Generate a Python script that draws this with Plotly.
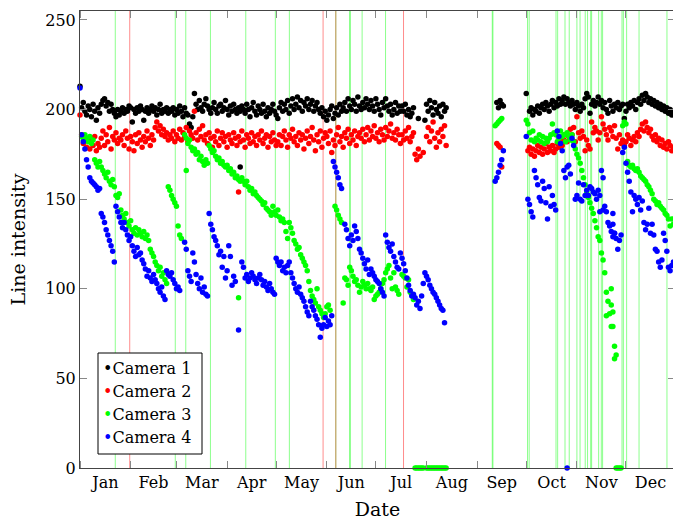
import plotly.graph_objects as go
import pandas as pd

YEAR = 2015

# ---- Data: chunks of consecutive daily readings (start "MM-DD", values) ----
cam1_chunks = [
    ("01-01", [213, 201, 204, 199, 197, 202, 200]),
    ("01-08", [196, 203, 199, 194, 201, 198]),
    ("01-14", [203, 205, 206, 202, 204, 199, 203, 200]),
    ("01-22", [198, 196, 200, 197, 199, 201, 198]),
    ("01-29", [200, 199, 202, 201, 193, 200, 198, 201, 199, 202, 200, 194, 199, 201,
               198, 200, 202, 199, 201, 197, 200, 203, 198, 200, 199, 201, 198, 200]),
    ("02-26", [199, 201, 197, 200, 198, 202, 199, 196, 201, 198, 197, 192, 190, 196, 209]),
    ("03-13", [203, 200, 205, 201, 199, 203, 206, 202, 200, 198, 201, 204, 200, 198, 202]),
    ("03-28", [203, 199, 201, 205, 200, 197, 202, 199, 203, 200, 198, 201, 199, 202, 200]),
    ("04-12", [198, 203, 200, 196, 201, 204, 199, 197, 202, 200, 198, 203, 199, 196, 201,
               198, 200, 203, 199]),
    ("05-01", [197, 195, 201, 204, 199, 203, 200, 205, 198, 202, 206, 200]),
    ("05-13", [203, 207, 201, 205, 199, 204, 202, 206, 200, 203, 205, 199, 202, 204, 200]),
    ("05-28", [198, 201, 196, 199, 194, 197, 200, 202, 195, 198, 201, 197, 203, 199]),
    ("06-11", [201, 204, 199, 206, 202, 200, 205, 203, 199, 207, 202, 200, 204, 201, 206,
               203, 200]),
    ("06-28", [205, 202, 199, 206, 203, 200, 197, 204, 201, 206, 202, 199, 203, 197, 200,
               204, 198, 202, 199]),
    ("07-17", [202, 199, 203, 197, 200, 196, 198, 201]),
    ("07-25", [None, None, 195, None, None, None, 194]),
    ("08-01", [203, 199, 205, 201, 197, 204, 200, 198, 202, 196, 203, 199, 201]),
    ("09-13", [204, 201, 205, 203, 202]),
    ("10-01", [209]),
    ("10-03", [199, 201, 197, 200, 199, 202, 198, 201, 203, 200, 204, 202, 199, 203, 205,
               201, 204, 202, 206, 203]),
    ("10-23", [205, 207, 203, 206, 204, 202, 205, 203, 200, 204, 202, 199, 203, 201, 206,
               209, 207, 198, 203, 205, 202, 204, 207, 203, 205, 201]),
    ("11-18", [204, 200, 198, 205, 202, 199, 203, 201, 204, 200, 202, 203, 195, 199, 203,
               201, 204, 202, 205, 200]),
    ("12-08", [204, 206, 203, 208, 205, 209, 207, 204, 206, 203, 205, 202, 204, 201, 203,
               200, 202, 199, 201, 198, 200, 197, 199]),
]
cam1_extra = [("04-09", 168)]

cam2_chunks = [
    ("01-01", [197, 186, 181, 184, 179, 183, 178, 182, 180, 185, 177, 181, 179]),
    ("01-14", [184, 188, 180, 186, 182, 190, 178, 185, 183, 187, 181, 184]),
    ("01-26", [183, 186, 180, 188, 184, 178, 185, 182, 177, 186, 181, 187, 183, 179, 185,
               182, 188, 184, 180, 186, 183]),
    ("02-16", [190, 193, 188, 191, 186, 189, 185, 187, 183, 186, 184, 188, 182]),
    ("03-01", [186, 184, 189, 183, 187, 185, 190, 182, 188, 186, 184, 199, 187, 183, 189,
               185, 191]),
    ("03-18", [183, 186, 181, 187, 184, 179, 185, 182, 188, 180, 184, 187, 182, 185, 179,
               186, 183, 181, 187, 184, 180, 185, 182, 188, 183, 179, 186, 184, 181, 187,
               182, 185, 180, 186, 183, 188, 181, 184, 186, 179, 185, 182, 187, 183, 180]),
    ("05-02", [182, 186, 180, 185, 188, 183, 179, 186, 184, 189, 182, 185, 180, 187, 183,
               186, 178, 184, 188, 181, 185, 190, 183, 177, 186, 182, 188, 179, 184, 187]),
    ("06-01", [185, 181, 188, 176, 183, 180, 186, 190, 182, 185, 179, 187, 184, 189, 181,
               186, 183, 188, 180, 185]),
    ("06-21", [187, 184, 189, 182, 186, 190, 183, 188, 185, 191, 184, 187, 182, 189, 186,
               183, 190, 185, 188, 192, 184, 187, 183, 189, 186, 181]),
    ("07-17", [186, 183, 188, 184, 190, 182, 185, 187]),
    ("07-25", [175, 172, 178, 174, None, 176, None]),
    ("08-01", [185, 190, 182, 188, 193, 184, 179, 187, 182, 189, 185, 191, 180]),
    ("09-13", [181, 180, 179, 168]),
    ("10-02", [177, 179, 175, 178, 174, 177, 180, 176, 179, 175, 178, 181, 176, 179, 177,
               180, 176, 178, 181, 179]),
    ("10-22", [184, 180, 183, 186, 182, 185, 189, 186, 190, 182, 196, 187, 184, 188, 185,
               177, 183]),
    ("11-08", [180, 178, 193, 187, 190, 188, 183, 187, 196, 192, 189, 186, 183, 190, 188,
               185, 191, 184, 178, 186]),
    ("11-28", [181, 183, 180, 182, 186, 184, 180, 183, 185, 182, 187, 185, 189, 192, 188,
               193, 190, 187, 189, 185, 183, 186, 182, 184, 180, 183, 179, 181, 178, 182,
               180, 177, 179]),
]
cam2_extra = [("04-08", 154)]

cam3_chunks = [
    ("01-02", [185, 183, 186, 184, 182, 185, 181, 183]),
    ("01-10", [172, 170, 168, 171]),
    ("01-14", [168, 166, 164, 162, 165, 160, 158, 161, 157]),
    ("01-23", [152, 151, 153]),
    ("01-26", [144, 141, 139, 142, 137, 135, 138, 133, 131, 134, 130]),
    ("02-06", [133, 131, 129, 132, 128, 130, 127, 122, 120, 118]),
    ("02-16", [115, 113, 110, 112, 107, 109, 105, 103]),
    ("02-24", [157, 155, 152, 150, 148, 146, 135, 130, 128]),
    ("03-06", [186, 184, 181, 183, 179, 177, 178, 175, 176, 172, 174, 171, 169, 172, 170]),
    ("03-21", [180, 178, 176, 177, 174, 172, 173, 170, 171, 169]),
    ("03-31", [168, 169, 166, 167, 164, 165, 162, 163, 161, 160, 162]),
    ("04-11", [160, 158, 160, 157, 155, 156, 153, 154, 152, 151, 150]),
    ("04-22", [149, 147, 148, 145, 144, 143, 141]),
    ("04-29", [146, 143, 141, 144, 140, 138, 139, 137, 132, 128, 137, 134, 131, 127, 125,
               122, 123, 119, 117, 115, 113, 110]),
    ("05-21", [104, 99, 96, 94, 92, 100, 90, 88, 86, 84, 86, 90, 91, 88]),
    ("06-06", [146, 144, 141, 139, 137]),
    ("06-11", [92, 106, 105, 102, 112, 110, 107, 104, 105, 102, 98, 101, 104, 102, 100,
               103, 100, 99, 101, 94, 96, 97, 98, 100, 103, 105, 109, 111, 113, 106,
               100, 109, 101, 99, 97]),
    ("07-17", [108, 107, 106, 101, 105, 98, 97, 94]),
    ("07-25", [0, 0, 0, 0, 0, 0]),
    ("08-01", [0, 0, 0, 0, 0, 0, 0, 0, 0, 0, 0, 0, 0]),
    ("09-12", [191, 192, 193, 194, 195]),
    ("10-01", [194, 192]),
    ("10-03", [187, 183, 188, 182, 184, 183, 186, 182, 185, 181, 184, 182, 184, 186, 192,
               187, 186, 182, 184, 188, 185]),
    ("10-24", [186, 182, 187, 185, 183, 186, 182]),
    ("10-31", [178, 175, 173, 170, 166, 162, 158, 154, 151]),
    ("11-09", [148, 145, 142, 138, 134, 129, 127]),
    ("11-16", [120, 116, 109, 98, 93, 86, 91, 79, 68, 63]),
    ("11-29", [191, 193, 192]),
    ("12-02", [171, 169, 168, 169, 167, 166, 167, 165, 163, 162, 161, 160, 158, 157, 155,
               153, 150, 149, 147, 148, 146, 145, 144, 142, 141, 139, 135, 139, 136]),
]
cam3_extra = [("03-07", 166), ("04-08", 95), ("11-19", 85), ("11-22", 100), ("11-23", 87),
              ("11-22", 79), ("11-24", 61), ("11-25", 0), ("11-26", 0), ("11-27", 0),
              ("11-28", 0)]

cam4_chunks = [
    ("01-01", [212, 186, 182, 178, 172, 168, 162, 160, 159, 158, 157, 155, 156]),
    ("01-14", [142, 140, 137, 133, 130, 127, 124, 121, 115]),
    ("01-23", [146, 143, 140, 137, 134]),
    ("01-28", [137, 133, 130, 127, 129, 124, 121, 118, 123, 119]),
    ("02-07", [120, 116, 114, 111, 107, 110, 106, 104, 108, 105, 103, 100, 98, 101, 96, 94]),
    ("02-23", [110, 108, 107, 109, 105, 103, 100, 101, 99]),
    ("03-06", [126, 122, 110, 107, 104, 120, 115, 108, 103, 100, 106, 98, 101, 97, 96]),
    ("03-21", [142, 136, 133]),
    ("03-24", [129, 127, 124, 119, 121, 112, 118, 106, 110, 124, 118, 102, 107, 104]),
    ("04-08", [77]),
    ("04-10", [115, 112, 106, 108, 104, 106, 109, 107, 105, 103, 106, 108, 105, 102, 104,
               101, 99, 103, 100, 98, 97]),
    ("05-01", [117, 115, 113, 115, 110, 112, 109, 113, 115, 109, 106]),
    ("05-12", [103, 100, 98, 101, 97, 95, 93, 90, 87, 85]),
    ("05-22", [93, 90, 88, 85, 83, 80, 73, 78, 80, 84, 79, 82, 80, 85]),
    ("06-05", [171, 168, 165, 162, 158, 156]),
    ("06-12", [136, 133, 128, 124, 130, 127, 135, 132, 128, 122]),
    ("06-22", [120, 117, 114, 111, 116, 108]),
    ("06-28", [111, 109, 107, 105, 104, 103, 100, 98, 96]),
    ("07-07", [130, 126, 123, 121, 125, 118, 115, 112, 111]),
    ("07-16", [120, 117, 114, 110, 106, 102, 99, 96, 97, 95, 91, 93, 89, 96, 103]),
    ("07-31", [109, 107, 105, 102, 100, 98, 97, 95, 93, 91, 89, 88, 81]),
    ("09-12", [160, 162, 165, 169, 172, 177]),
    ("10-01", [185, 150, 147, 143, 140]),
    ("10-06", [166, 162, 158, 151, 149, 160, 156, 148, 139, 157, 146, 152, 147, 144]),
    ("10-20", [188, 185, 181, 177]),
    ("10-24", [166, 162, 168, 169, 164, 184, 180]),
    ("10-31", [150, 152, 159, 150, 149, 158, 152, 155, 152, 157, 156, 154, 153, 150, 155,
               143, 166, 162, 146, 143, 137, 135, 132, 136, 131, 128, 122, 127, 130, 176,
               179]),
    ("12-01", [170, 165, 160, 154, 143, 152, 150, 147, 151, 144, 149, 137, 133, 136, 145,
               131, 136, 130, 122, 121, 115, 112, 116, 131, 127, 121, 112, 110, 113, 115]),
]
cam4_extra = [("10-26", 0), ("11-15", 152), ("11-17", 144), ("11-23", 142),
              ("11-23", 129), ("11-24", 131)]

# Maintenance events (vertical lines)
green_events = ["01-22 14:00", "02-28 07:00", "03-06 17:00", "03-21 19:00", "04-12 10:00",
                "04-30 12:00", "05-09 02:00", "06-06 12:00", "06-14 22:00", "06-15 10:00",
                "06-22 14:00", "07-06 22:00", "09-10 05:00", "09-10 15:00", "10-01 19:00",
                "10-02 19:00", "10-19 05:00", "10-20 05:00", "10-24 17:00", "10-27 07:00",
                "11-01 00:00", "11-02 22:00", "11-06 02:00", "11-07 12:00", "11-09 10:00",
                "11-10 00:00", "11-14 07:00", "11-15 22:00", "11-16 17:00", "11-28 14:00",
                "11-29 10:00", "12-01 10:00", "12-09 00:00", "12-26 02:00"]
red_events = ["01-31 10:00", "05-29 17:00", "06-06 12:00", "07-17 22:00"]

series_names = ["Camera 1", "Camera 2", "Camera 3", "Camera 4"]
series_colors = ["#000000", "#ff0000", "#00ff00", "#0000ff"]


def expand(chunks, extra):
    xs, ys = [], []
    for start, vals in chunks:
        d0 = pd.Timestamp(f"{YEAR}-{start}")
        for i, v in enumerate(vals):
            xs.append(d0 + pd.Timedelta(days=i))
            ys.append(v)
    for day, v in extra:
        xs.append(pd.Timestamp(f"{YEAR}-{day}"))
        ys.append(v)
    return xs, ys


FONT = "DejaVu Serif"
W, H = 675, 521
ML, MR, MT, MB = 80, 0, 11, 53
PW, PH = W - ML - MR, H - MT - MB

fig = go.Figure()
all_data = [(cam1_chunks, cam1_extra), (cam2_chunks, cam2_extra),
            (cam3_chunks, cam3_extra), (cam4_chunks, cam4_extra)]
for (chunks, extra), name, color in zip(all_data, series_names, series_colors):
    xs, ys = expand(chunks, extra)
    fig.add_trace(go.Scatter(x=xs, y=ys, mode="markers", name=name, showlegend=False,
                             marker=dict(color=color, size=5.5, line=dict(width=0)),
                             cliponaxis=False))

for ev in green_events:
    t = f"{YEAR}-{ev}"
    fig.add_shape(type="line", xref="x", yref="paper", x0=t, x1=t, y0=0, y1=1,
                  line=dict(color="rgba(0,255,0,0.45)", width=1), layer="below")
for ev in red_events:
    t = f"{YEAR}-{ev}"
    fig.add_shape(type="line", xref="x", yref="paper", x0=t, x1=t, y0=0, y1=1,
                  line=dict(color="rgba(255,0,0,0.45)", width=1), layer="below")

# Legend box (pgfplots style, drawn in paper coordinates)
box_l, box_r, box_t, box_b = 98, 202, 353, 454   # pixel positions in the page
fig.add_shape(type="rect", xref="paper", yref="paper",
              x0=(box_l - ML) / PW, x1=(box_r - ML) / PW,
              y0=(H - MB - box_b) / PH, y1=(H - MB - box_t) / PH,
              line=dict(color="black", width=1), fillcolor="white", layer="above")
row_y = [368.5, 391.5, 414.5, 437.5]
for name, color, yy in zip(series_names, series_colors, row_y):
    fig.add_annotation(xref="paper", yref="paper", x=(101 - ML) / PW,
                       y=(H - MB - yy) / PH, xanchor="left", yanchor="middle",
                       showarrow=False,
                       text=f"<span style='color:{color}'>•</span>{name}",
                       font=dict(family=FONT, size=16, color="black"))

fig.update_layout(
    width=W, height=H,
    margin=dict(l=ML, r=MR, t=MT, b=MB),
    paper_bgcolor="white", plot_bgcolor="white",
    font=dict(family=FONT, size=16, color="black"),
    showlegend=False,
)
fig.update_xaxes(
    type="date", range=[f"{YEAR}-01-01", f"{YEAR}-12-31"],
    dtick="M1", tick0=f"{YEAR}-01-01", tickformat="%b", ticklabelmode="period",
    ticks="inside", ticklen=7, tickcolor="#888", tickwidth=1,
    showline=True, linecolor="#444", linewidth=1, mirror="allticks",
    showgrid=False, zeroline=False,
    title=dict(text="Date", standoff=11),
)
fig.update_yaxes(
    range=[0, 255], tickvals=[0, 50, 100, 150, 200, 250],
    ticks="inside", ticklen=7, tickcolor="#888", tickwidth=1,
    showline=True, linecolor="#444", linewidth=1, mirror="allticks",
    showgrid=False, zeroline=False,
    title=dict(text="Line intensity", standoff=14),
)

fig.write_html("out.html", config={"displayModeBar": False},
               post_script="document.body.style.margin='0';"
                           "document.body.style.overflow='hidden';")
